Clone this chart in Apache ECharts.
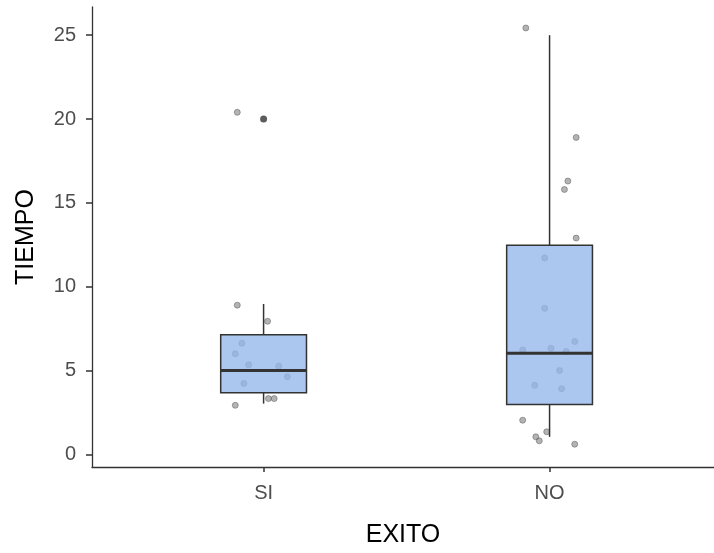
<!DOCTYPE html>
<html>
<head>
<meta charset="utf-8">
<script src="https://cdn.jsdelivr.net/npm/echarts@6/dist/echarts.min.js"></script>
<style>
html,body{margin:0;padding:0;background:#fff;}
#chart{width:714px;height:553px;}
</style>
</head>
<body>
<div id="chart"></div>
<script>
// Categories
const categories = ['SI', 'NO'];
const yTicks = [0, 5, 10, 15, 20, 25];

// Box statistics: [lower whisker, Q1, median, Q3, upper whisker]
const siBox = [3.03, 3.68, 5.0, 7.14, 8.97];
const noBox = [1.05, 2.97, 6.04, 12.47, 25.0];

// Boxplot outliers (TIEMPO)
const siOutliers = [20.0];
const noOutliers = [];

// Jittered observations: TIEMPO values and horizontal jitter offsets
const siTiempo = [20.4, 8.9, 7.94, 6.63, 6.0, 5.34, 5.27, 4.63, 4.23, 3.33, 3.33, 2.93];
const siJitter = [-0.092, -0.092, 0.014, -0.076, -0.099, -0.052, 0.053, 0.083, -0.069, 0.017, 0.037, -0.099];
const noTiempo = [25.43, 18.9, 16.3, 15.8, 12.9, 11.72, 8.71, 6.23, 6.33, 6.14, 6.73, 5.0, 4.12, 3.92, 2.04, 1.35, 1.05, 0.81, 0.61];
const noJitter = [-0.083, 0.093, 0.064, 0.052, 0.093, -0.017, -0.017, -0.094, 0.005, 0.058, 0.088, 0.035, -0.052, 0.042, -0.094, -0.010, -0.048, -0.036, 0.088];

const boxes = [siBox, noBox];
const tiempos = [siTiempo, noTiempo];
const jitters = [siJitter, noJitter];
const outliers = [siOutliers, noOutliers];

const jitterData = [];
tiempos.forEach((arr, g) => arr.forEach((v, i) => jitterData.push([g + 1 + jitters[g][i], v])));
const boxData = boxes.map((b, g) => [g + 1].concat(b));
const outlierData = [];
outliers.forEach((arr, g) => arr.forEach(v => outlierData.push([g + 1, v])));

const BOX_WIDTH = 0.3;
const lineColor = '#333333';
const fontFam = 'Liberation Sans, Arial, sans-serif';

const chart = echarts.init(document.getElementById('chart'), null, {renderer: 'canvas'});
chart.setOption({
  animation: false,
  backgroundColor: '#ffffff',
  grid: {left: 92, right: 0, top: 7, bottom: 84, containLabel: false},
  xAxis: {
    type: 'value',
    min: 0.4,
    max: 2.575,
    name: 'EXITO',
    nameLocation: 'middle',
    nameGap: 56,
    nameTextStyle: {color: '#000', fontSize: 25, fontFamily: fontFam},
    axisLine: {show: true, onZero: false, lineStyle: {color: lineColor, width: 1.3}},
    axisTick: {show: true, length: 5, customValues: [1, 2], lineStyle: {color: lineColor, width: 1.5}},
    axisLabel: {
      customValues: [1, 2],
      margin: 16,
      color: '#4d4d4d',
      fontSize: 20,
      fontFamily: fontFam,
      formatter: v => categories[Math.round(v) - 1] || ''
    },
    splitLine: {show: false}
  },
  yAxis: {
    type: 'value',
    min: -0.75,
    max: 26.68,
    name: 'TIEMPO',
    nameLocation: 'middle',
    nameGap: 53,
    nameTextStyle: {color: '#000', fontSize: 25, fontFamily: fontFam},
    axisLine: {show: true, onZero: false, lineStyle: {color: lineColor, width: 1.3}},
    axisTick: {show: true, length: 6, customValues: yTicks, lineStyle: {color: lineColor, width: 1.5}},
    axisLabel: {
      customValues: yTicks,
      margin: 16,
      color: '#4d4d4d',
      fontSize: 20,
      fontFamily: fontFam
    },
    splitLine: {show: false}
  },
  series: [
    {
      type: 'scatter',
      data: jitterData,
      symbol: 'circle',
      symbolSize: 6,
      z: 2,
      itemStyle: {color: 'rgba(120,120,120,0.7)', borderColor: 'rgba(90,90,90,0.8)', borderWidth: 0.8}
    },
    {
      type: 'custom',
      data: boxData,
      z: 3,
      encode: {x: 0, y: [1, 2, 3, 4, 5]},
      renderItem: function (params, api) {
        const x = api.value(0);
        const lo = api.coord([x, api.value(1)]);
        const q1 = api.coord([x, api.value(2)]);
        const med = api.coord([x, api.value(3)]);
        const q3 = api.coord([x, api.value(4)]);
        const hi = api.coord([x, api.value(5)]);
        const halfW = api.size([BOX_WIDTH, 0])[0] / 2;
        const cx = lo[0];
        return {
          type: 'group',
          children: [
            {type: 'line', shape: {x1: cx, y1: q3[1], x2: cx, y2: hi[1]}, style: {stroke: lineColor, lineWidth: 1.5}},
            {type: 'line', shape: {x1: cx, y1: q1[1], x2: cx, y2: lo[1]}, style: {stroke: lineColor, lineWidth: 1.5}},
            {type: 'rect', shape: {x: cx - halfW, y: q3[1], width: halfW * 2, height: q1[1] - q3[1]},
              style: {fill: 'rgba(147,183,235,0.78)', stroke: lineColor, lineWidth: 1.5}},
            {type: 'line', shape: {x1: cx - halfW, y1: med[1], x2: cx + halfW, y2: med[1]}, style: {stroke: lineColor, lineWidth: 3}}
          ]
        };
      }
    },
    {
      type: 'scatter',
      data: outlierData,
      symbol: 'circle',
      symbolSize: 7,
      z: 4,
      itemStyle: {color: '#333333'}
    }
  ]
});
</script>
</body>
</html>
